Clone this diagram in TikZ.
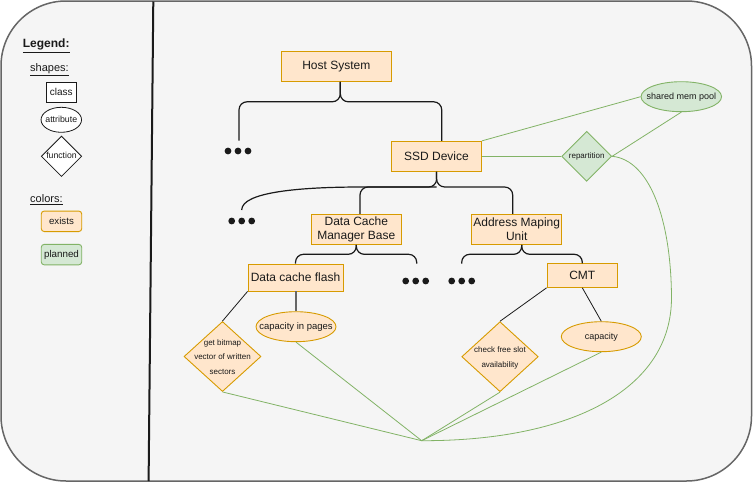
\documentclass[tikz,border=0pt]{standalone}
\usepackage{fontspec}
\setmainfont{Liberation Sans}
\usetikzlibrary{shapes.geometric}

\definecolor{exfill}{HTML}{FFE6CC}
\definecolor{exline}{HTML}{D79B00}
\definecolor{plfill}{HTML}{D5E8D4}
\definecolor{plline}{HTML}{82B366}
\definecolor{pagefill}{HTML}{F5F5F5}
\definecolor{pageline}{HTML}{666666}
\definecolor{ink}{HTML}{1A1A1A}

\newcommand\fsz[2]{\fontsize{#1}{#2}\selectfont}
% text that takes no room, so that ellipses and diamonds keep their set size
\newcommand\zbox[1]{\makebox[0pt]{\raisebox{-0.3em}[0pt][0pt]{\begin{tabular}{@{}c@{}}#1\end{tabular}}}}

\tikzset{
  exbox/.style={rectangle, draw=exline, fill=exfill, line width=0.9pt, inner sep=0pt,
    text=ink, align=center, font=\fsz{12}{14.6}},
  exoval/.style={ellipse, draw=exline, fill=exfill, line width=0.9pt, inner sep=0pt, text=ink},
  exdiamond/.style={diamond, draw=exline, fill=exfill, line width=0.9pt, inner sep=0pt, text=ink},
  ploval/.style={ellipse, draw=plline, fill=plfill, line width=0.9pt, inner sep=0pt, text=ink},
  pldiamond/.style={diamond, draw=plline, fill=plfill, line width=0.9pt, inner sep=0pt, text=ink},
  brace/.style={draw=ink, line width=1.2pt, rounded corners=8pt},
  link/.style={draw=ink, line width=0.8pt},
  heavylink/.style={draw=pageline, line width=2.4pt},
  planlink/.style={draw=plline, line width=0.8pt},
  legendtext/.style={anchor=west, inner sep=0pt, text=ink},
  legbox/.style={rectangle, draw=ink, line width=0.9pt, fill=white, inner sep=0pt, text=ink},
}

\begin{document}
\begin{tikzpicture}[x=1pt, y=-1pt]
\useasboundingbox (0,0) rectangle (753,482);

% page frame and divider
\draw[draw=pageline, fill=pagefill, line width=1.5pt, rounded corners=65pt]
  (1,1) rectangle (751.5,481);
\draw[ink, line width=2pt] (153.3,1.5) -- (148.6,481);

% legend
\node[legendtext, font=\bfseries\fsz{12}{14}] (legtitle) at (22.7,45.7) {\underline{Legend:}};
\node[legendtext, font=\fsz{11}{13}] (legshapes) at (30,70) {\underline{shapes:}};
\node[legbox, minimum width=30pt, minimum height=20pt, font=\fsz{10}{12}] (legclass) at (61.3,92.3) {class};
\node[ellipse, draw=ink, line width=0.8pt, fill=white, inner sep=0pt, minimum width=40.5pt,
  minimum height=25pt, font=\fsz{8.8}{10}, text=ink] (legattr) at (61.3,119.8) {\zbox{attribute}};
\node[diamond, draw=ink, line width=0.8pt, fill=white, inner sep=0pt, minimum width=40.5pt,
  minimum height=40.5pt, font=\fsz{8.7}{10}, text=ink] (legfunc) at (61.5,156.3) {\zbox{function}};
\node[legendtext, font=\fsz{11}{13}] (legcolors) at (30,199.3) {\underline{colors:}};
\node[rectangle, rounded corners=3pt, draw=exline, fill=exfill, line width=0.9pt, inner sep=0pt,
  minimum width=40.5pt, minimum height=20.5pt, font=\fsz{9.7}{11}, text=ink] (legexists) at (61.5,221.3) {exists};
\node[rectangle, rounded corners=3pt, draw=plline, fill=plfill, line width=0.9pt, inner sep=0pt,
  minimum width=40.5pt, minimum height=20.5pt, font=\fsz{9.8}{11}, text=ink] (legplanned) at (61.5,254.6) {planned};

% classes
\node[exbox, minimum width=110pt, minimum height=30pt] (host) at (336.3,66.3) {Host System};
\node[exbox, minimum width=90pt, minimum height=30pt] (ssd) at (436.5,156.3) {SSD Device};
\node[exbox, minimum width=90pt, minimum height=30pt] (dcmb) at (356.3,229.3) {Data Cache\\Manager Base};
\node[exbox, minimum width=90pt, minimum height=30pt] (amu) at (516.7,229.3) {Address Maping\\Unit};
\node[exbox, minimum width=95pt, minimum height=27pt] (flash) at (295.5,277.5) {Data cache flash};
\node[exbox, minimum width=70.5pt, minimum height=23.5pt] (cmt) at (582.3,275.6) {CMT};

% attributes and functions
\node[exdiamond, minimum width=77pt, minimum height=70pt, font=\fsz{8}{14.5}] (bitmap) at (222.5,356.5)
  {\zbox{get bitmap\\vector of written\\sectors}};
\node[exoval, minimum width=80pt, minimum height=30pt, font=\fsz{9.5}{11}] (cappages) at (296,326.7)
  {\zbox{capacity in pages}};
\node[exdiamond, minimum width=76.5pt, minimum height=70pt, font=\fsz{8}{15}] (freeslot) at (500,356.7)
  {\zbox{check free slot\\availability}};
\node[exoval, minimum width=80pt, minimum height=30pt, font=\fsz{9}{11}] (capacity) at (601.3,336.7)
  {\zbox{capacity}};
\node[pldiamond, minimum width=50pt, minimum height=50pt, font=\fsz{8}{10}] (repart) at (586.7,156.3)
  {\zbox{repartition}};
\node[ploval, minimum width=80.5pt, minimum height=30pt, font=\fsz{9}{11}] (mempool) at (681.3,96.7)
  {\zbox{shared mem pool}};

% free ends of the hierarchy and the meeting point of the planned links
\coordinate (dotsA) at (238,151);
\coordinate (dotsB) at (241.7,221);
\coordinate (dotsC) at (415.7,281);
\coordinate (dotsD) at (461.7,281);
\coordinate (dotsAtop) at (239,140.5);
\coordinate (dotsBtop) at (241.7,210);
\coordinate (dotsCtop) at (416.7,263.5);
\coordinate (dotsDtop) at (461.7,263.5);
\coordinate (hostJ) at (340.3,101.8);
\coordinate (ssdJ) at (436.7,187);
\coordinate (dcmbJ) at (356.3,254.3);
\coordinate (amuJ) at (521.7,254.3);
\coordinate (hub) at (421.7,440.7);

\foreach \c in {dotsA,dotsB,dotsC,dotsD}
  \foreach \dx in {-10,0,10}
    \fill[ink] ([xshift=\dx pt]\c) circle[radius=3.4pt];

% hierarchy braces
\draw[brace] ([xshift=4pt]host.south) -- (hostJ) -| (dotsAtop);
\draw[brace] ([xshift=4pt]host.south) -- (hostJ) -| ([xshift=5.2pt]ssd.north);

\draw[brace] (ssd.south) -- (ssdJ) -| ([xshift=3.7pt]dcmb.north);
\draw[brace] (ssd.south) -- (ssdJ) -| ([xshift=-4pt]amu.north);
\draw[brace] (ssdJ) -- (370,187) .. controls (300,187) and (241.7,192) .. (dotsBtop);

\draw[brace] (dcmb.south) -- (dcmbJ) -| (flash.north);
\draw[brace] (dcmb.south) -- (dcmbJ) -| (dotsCtop);

\draw[brace] ([xshift=5pt]amu.south) -- (amuJ) -| (dotsDtop);
\draw[brace] ([xshift=5pt]amu.south) -- (amuJ) -| (cmt.north);

% members
\draw[link] (flash.south west) -- (bitmap.north);
\draw[heavylink] (flash.south -| cappages.north) -- (cappages.north);
\draw[link] (cmt.south west) -- (freeslot.north);
\draw[link] (cmt.south) -- (capacity.north);

% planned links
\draw[planlink] (ssd.north east) -- (mempool.west);
\draw[planlink] (ssd.east) -- (repart.west);
\draw[planlink] (repart.east) -- (mempool.south);
\draw[planlink] (repart.east) .. controls (650,160) and (671,220) .. (671.5,297)
  .. controls (672,390) and (570,441) .. (hub);
\draw[planlink] (bitmap.south) -- (hub);
\draw[planlink] (cappages.south) -- (hub);
\draw[planlink] (freeslot.south) -- (hub);
\draw[planlink] (capacity.south) -- (hub);
\end{tikzpicture}
\end{document}
